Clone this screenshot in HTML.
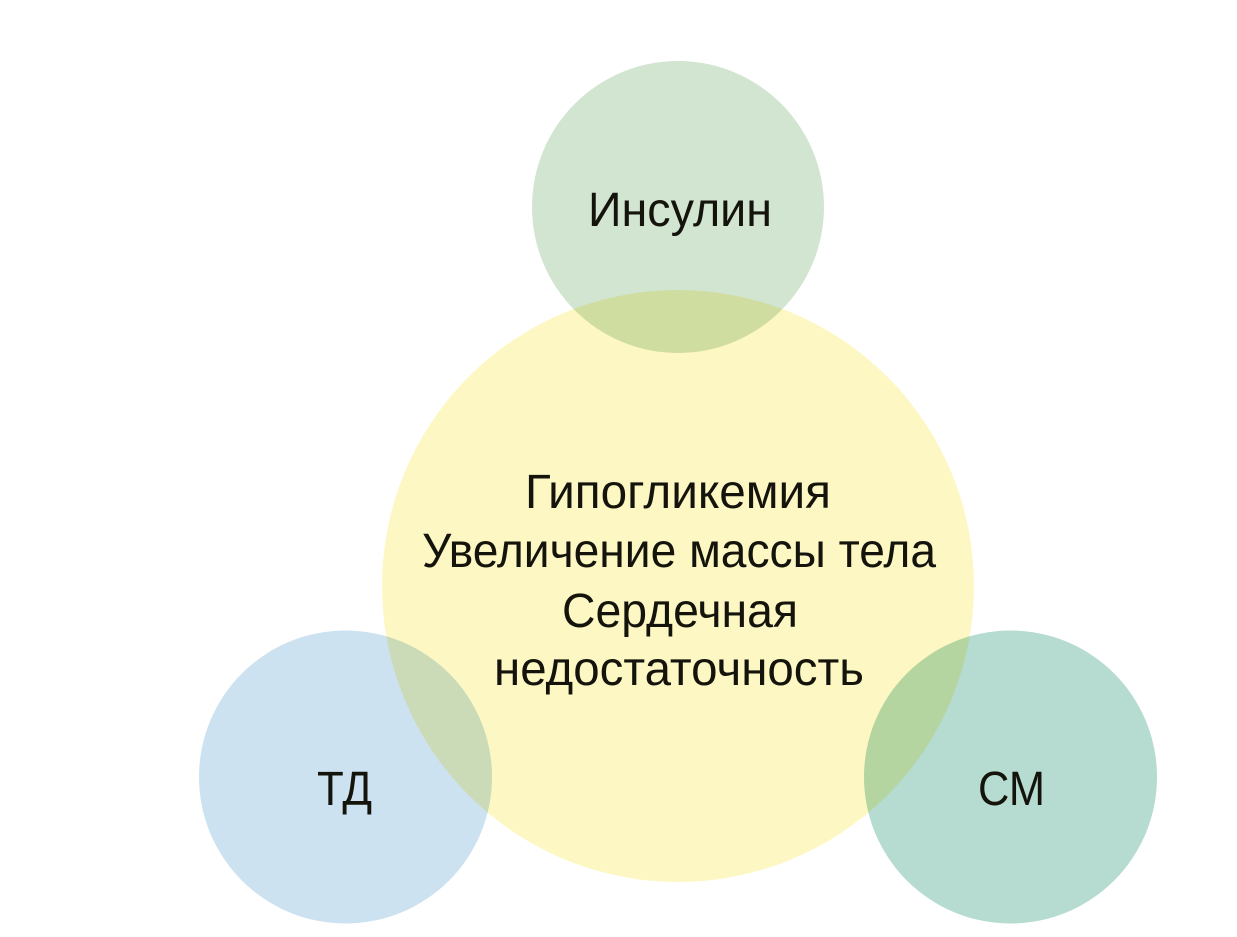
<!DOCTYPE html>
<html><head><meta charset="utf-8"><style>html,body{margin:0;padding:0;background:#fff}svg{display:block}</style></head>
<body>
<svg width="1237" height="937" viewBox="0 0 1237 937" xmlns="http://www.w3.org/2000/svg">
<g style="isolation:isolate">
<circle cx="678" cy="586" r="296" fill="#fdf7c4"/>
<circle cx="678" cy="207" r="146" fill="#d2e5d1" style="mix-blend-mode:multiply"/>
<circle cx="345.5" cy="777" r="146.5" fill="#cde2f0" style="mix-blend-mode:multiply"/>
<circle cx="1010.5" cy="777" r="146.5" fill="#b6dbd0" style="mix-blend-mode:multiply"/>
</g>
<g font-family="Liberation Sans, DejaVu Sans, sans-serif" font-size="48" fill="#14140c" text-anchor="middle">
<text x="680" y="226" textLength="184" lengthAdjust="spacingAndGlyphs">Инсулин</text>
<text x="678" y="508" textLength="306" lengthAdjust="spacingAndGlyphs">Гипогликемия</text>
<text x="679" y="567" textLength="514" lengthAdjust="spacingAndGlyphs">Увеличение массы тела</text>
<text x="680" y="627" textLength="236" lengthAdjust="spacingAndGlyphs">Сердечная</text>
<text x="679" y="685" textLength="370" lengthAdjust="spacingAndGlyphs">недостаточность</text>
<text x="344.5" y="805" textLength="55" lengthAdjust="spacingAndGlyphs">ТД</text>
<text x="1011.5" y="805" textLength="67" lengthAdjust="spacingAndGlyphs">СМ</text>
</g>
</svg>
</body></html>
